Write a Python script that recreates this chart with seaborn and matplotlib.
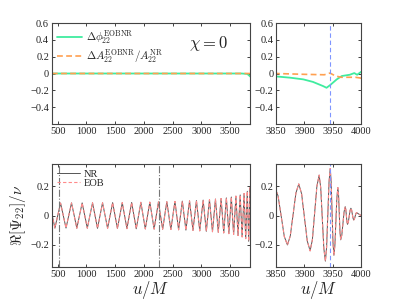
import numpy as np
import pandas as pd
import matplotlib
matplotlib.use("Agg")
import matplotlib.pyplot as plt
from matplotlib.ticker import FuncFormatter
import seaborn as sns

# ---- data ----
# real part of the (2,2) waveform, NR: extrema in the inspiral, denser samples in the merger
nr_t = [360, 453, 551, 646, 742, 834, 927, 1017, 1107, 1194, 1282, 1369, 1457, 1541,
        1625, 1706, 1788, 1868, 1948, 2026, 2104, 2179, 2254, 2327, 2400, 2470, 2541,
        2605, 2670, 2732, 2795, 2855, 2915, 2973, 3032, 3087, 3142, 3194, 3246, 3295,
        3344, 3390, 3436, 3479, 3522, 3562, 3602, 3639, 3676, 3710, 3744, 3772, 3800,
        3824, 3848,
        3853.5, 3859, 3864.5, 3870, 3875, 3880, 3885, 3890, 3895, 3900, 3905, 3910,
        3914, 3918, 3922, 3926, 3928.75, 3931.5, 3934.25, 3937, 3939.1, 3941.25, 3943.4,
        3945.5, 3947.1, 3948.75, 3950.4, 3952, 3953.75, 3955.5, 3957.25, 3959, 3960.25,
        3961.5, 3962.75, 3964, 3966, 3968, 3970, 3972, 3973, 3974, 3975, 3976, 3977.5,
        3979, 3980.5, 3982, 3983.25, 3984.5, 3985.75, 3987, 3988.25, 3989.5, 3990.75,
        3992, 3996, 4000]
nr_psi = [0.085, -0.085, 0.085, -0.085, 0.086, -0.086, 0.086, -0.086, 0.087, -0.087,
          0.087, -0.087, 0.088, -0.088, 0.088, -0.089, 0.089, -0.09, 0.09, -0.091, 0.091,
          -0.092, 0.093, -0.093, 0.094, -0.095, 0.096, -0.097, 0.098, -0.099, 0.1, -0.101,
          0.102, -0.104, 0.105, -0.107, 0.108, -0.11, 0.112, -0.114, 0.116, -0.118, 0.12,
          -0.123, 0.126, -0.129, 0.132, -0.136, 0.14, -0.145, 0.15, -0.157, 0.165, -0.175,
          0.19,
          0.133, -0.005, -0.143, -0.2, -0.139, 0.0075, 0.154, 0.215, 0.148, -0.0125, -0.173,
          -0.24, -0.165, 0.0175, 0.2, 0.275, 0.189, -0.0175, -0.224, -0.31, -0.218, 0.005,
          0.228, 0.32, 0.234, 0.025, -0.184, -0.27, -0.203, -0.04, 0.123, 0.19, 0.138,
          0.0125, -0.113, -0.165, -0.132, -0.0525, 0.027, 0.06, 0.042, 0.0, -0.042, -0.06,
          -0.044, -0.005, 0.034, 0.05, 0.038, 0.01, -0.018, -0.03, -0.023, -0.005, 0.013,
          0.02, 0.01, 0.0]
# EOB lies on top of NR at this resolution
eob_t = nr_t
eob_psi = nr_psi

# phase difference and relative amplitude difference
dphi_t = [400, 3700, 3800, 3850, 3875, 3898, 3915, 3933, 3939, 3945, 3957, 3966, 3980,
          3988, 3993, 3997, 4000]
dphi = [0.0, 0.0, -0.005, -0.035, -0.05, -0.07, -0.1, -0.15, -0.17, -0.14, -0.07, -0.03,
        -0.015, 0.005, -0.015, 0.005, 0.02]
damp_t = [400, 3850, 3900, 3935, 3945, 3955, 3965, 3990, 4000]
damp = [0.0, 0.0, -0.01, -0.015, 0.005, -0.03, -0.045, -0.045, -0.055]

match_t = [520, 2270]   # matching window (dash-dot)
merger_t = 3946         # NR amplitude peak (blue dashed)

left_xticks = [500, 1000, 1500, 2000, 2500, 3000, 3500]
right_xticks = [3850, 3900, 3950, 4000]
top_yticks = [-0.4, -0.2, 0, 0.2, 0.4, 0.6]
bot_yticks = [-0.2, 0, 0.2]

sns.set_style("ticks")
plt.rcParams["font.family"] = ["Liberation Serif", "DejaVu Serif"]
plt.rcParams["mathtext.fontset"] = "cm"
plt.rcParams["axes.edgecolor"] = "#444444"
plt.rcParams["axes.linewidth"] = 0.8

wave = pd.concat([
    pd.DataFrame({"t": nr_t, "psi": nr_psi, "src": "NR"}),
    pd.DataFrame({"t": eob_t, "psi": eob_psi, "src": "EOB"}),
])
dphi_df = pd.DataFrame({"t": dphi_t, "v": dphi})
damp_df = pd.DataFrame({"t": damp_t, "v": damp})

fig = plt.figure(figsize=(3.99, 3.0), dpi=100)
ax_tl = fig.add_axes([0.130, 0.587, 0.497, 0.336])
ax_tr = fig.add_axes([0.692, 0.587, 0.213, 0.336])
ax_bl = fig.add_axes([0.130, 0.110, 0.497, 0.343])
ax_br = fig.add_axes([0.692, 0.110, 0.213, 0.343])

green = "#3fec9f"
orange = "#ffa050"

def fmt(v, pos):
    s = "%g" % v
    return s.replace("-", "\u2212")

for ax in [ax_tl, ax_tr]:
    sns.lineplot(data=dphi_df, x="t", y="v", ax=ax, color=green, lw=1.3,
                 label=r"$\Delta\phi_{22}^{\rm EOBNR}$")
    sns.lineplot(data=damp_df, x="t", y="v", ax=ax, color=orange, lw=1.2,
                 linestyle=(0, (3.5, 2)),
                 label=r"$\Delta A_{22}^{\rm EOBNR}/A_{22}^{\rm NR}$")
    ax.set_ylim(-0.6, 0.6)
    ax.set_yticks(top_yticks)

for ax in [ax_bl, ax_br]:
    sub = wave[wave.src == "NR"]
    sns.lineplot(data=sub, x="t", y="psi", ax=ax, color="#555555", lw=0.7,
                 label="NR", sort=False)
    sub = wave[wave.src == "EOB"]
    sns.lineplot(data=sub, x="t", y="psi", ax=ax, color="#ff8a8a", lw=0.8,
                 linestyle=(0, (3, 2)), label="EOB", sort=False)
    ax.set_ylim(-0.35, 0.35)
    ax.set_yticks(bot_yticks)

for t in match_t:
    ax_bl.axvline(t, color="#777777", lw=0.8, linestyle="-.")
for ax in [ax_tr, ax_br]:
    ax.axvline(merger_t, color="#7f95ff", lw=0.8, linestyle=(0, (4, 2.5)))

for ax in [ax_tl, ax_bl]:
    ax.set_xlim(400, 3850)
    ax.set_xticks(left_xticks)
for ax in [ax_tr, ax_br]:
    ax.set_xlim(3850, 4000)
    ax.set_xticks(right_xticks)

for ax in [ax_tl, ax_tr, ax_bl, ax_br]:
    ax.tick_params(direction="in", top=True, right=True, length=2.5, width=0.6,
                   labelsize=7.5, pad=2, colors="#222222")
    ax.yaxis.set_major_formatter(FuncFormatter(fmt))
    ax.set_xlabel("")
    ax.set_ylabel("")

ax_tl.legend(loc="upper left", frameon=False, fontsize=8, handlelength=2.2,
             borderaxespad=0.1, labelspacing=0.1, handletextpad=0.4)
ax_tr.get_legend().remove()
ax_bl.legend(loc="upper left", frameon=False, fontsize=7.5, handlelength=2.2,
             borderaxespad=0.1, labelspacing=0.0, handletextpad=0.4)
ax_br.get_legend().remove()

ax_tl.text(0.79, 0.80, r"$\chi = 0$", transform=ax_tl.transAxes, fontsize=12,
           ha="center", va="center", color="#222222")

ax_bl.set_xlabel(r"$u/M$", fontsize=12, labelpad=0)
ax_br.set_xlabel(r"$u/M$", fontsize=12, labelpad=0)
ax_bl.set_ylabel(r"$\Re[\Psi_{22}]/\nu$", fontsize=11, labelpad=2)

fig.savefig("out.png", dpi=100)
